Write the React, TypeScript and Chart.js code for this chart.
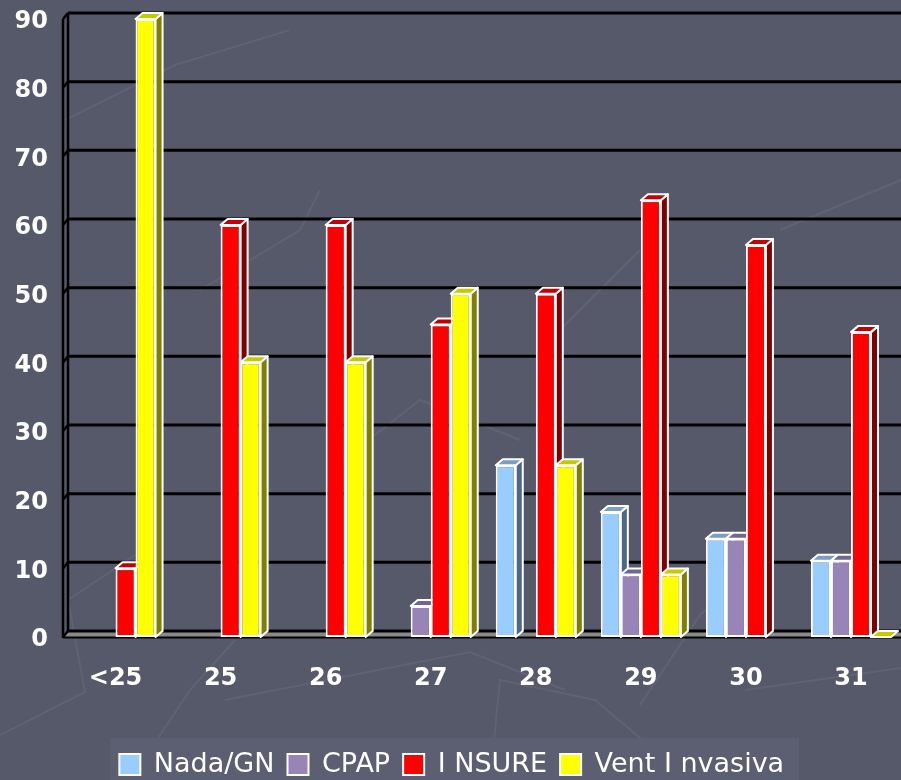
import React, { useEffect, useRef } from "react";
import { Chart, registerables } from "chart.js";

Chart.register(...registerables);

// ---- data ----
const categories = ["<25", "25", "26", "27", "28", "29", "30", "31"];
const nadaGN = [null, null, null, null, 25, 18.2, 14.3, 11.1];
const cpap = [null, null, null, 4.5, null, 9.1, 14.3, 11.1];
const insure = [10, 60, 60, 45.5, 50, 63.6, 57.1, 44.4];
const ventInvasiva = [90, 40, 40, 50, 25, 9.1, null, 0];
const seriesNames = ["Nada/GN", "CPAP", "I NSURE", "Vent I nvasiva"];
const yMin = 0;
const yMax = 90;
const yStep = 10;

// ---- styling ----
const FONT = "'DejaVu Sans', sans-serif";
const BG = "#56596a";
const PANEL = "#5c5f71";
const faces = [
  { front: "#99ccff", top: "#7a9dc2", side: "#4d6784" },
  { front: "#9884b6", top: "#6f6791", side: "#4d4468" },
  { front: "#ff0000", top: "#c40000", side: "#800000" },
  { front: "#ffff00", top: "#c8c800", side: "#808000" },
];
const DX = 7; // bar depth, horizontal
const DY = 6; // bar depth, vertical
const WX = 5; // wall depth, horizontal
const WY = 6; // wall depth, vertical

// faint strokes of the slide backdrop
const backdropStrokes: number[][] = [
  [0, 735, 85, 692, 68, 600, 150, 545],
  [130, 780, 190, 690, 235, 640],
  [225, 700, 470, 652, 565, 690],
  [490, 780, 500, 680, 595, 700, 690, 780],
  [640, 705, 700, 615, 760, 560],
  [745, 690, 901, 668],
  [65, 120, 175, 65, 290, 30],
  [200, 290, 300, 230, 320, 190],
  [330, 470, 420, 400, 520, 440],
  [560, 330, 640, 250],
  [780, 230, 901, 180],
];

const scenePlugin = {
  id: "scene3d",
  beforeDraw(chart: any) {
    const { ctx, width, height } = chart;
    ctx.save();
    ctx.fillStyle = BG;
    ctx.fillRect(0, 0, width, height);

    ctx.strokeStyle = "rgba(255,255,255,0.06)";
    ctx.lineWidth = 2;
    for (const pts of backdropStrokes) {
      ctx.beginPath();
      ctx.moveTo(pts[0], pts[1]);
      for (let k = 2; k < pts.length; k += 2) ctx.lineTo(pts[k], pts[k + 1]);
      ctx.stroke();
    }

    const legend = chart.legend;
    if (legend && legend.legendHitBoxes && legend.legendHitBoxes.length) {
      const hb = legend.legendHitBoxes;
      const last = hb[hb.length - 1];
      const l = hb[0].left - 9;
      const r = last.left + last.width + 15;
      ctx.fillStyle = PANEL;
      ctx.fillRect(l, legend.top, r - l, height - legend.top);
    }
    ctx.restore();
  },
  beforeDatasetsDraw(chart: any) {
    const { ctx, chartArea, scales } = chart;
    const ys = scales.y;
    const left = chartArea.left;
    const right = chart.width;
    const y0 = ys.getPixelForValue(yMin);
    const yTop = ys.getPixelForValue(yMax);
    ctx.save();

    // floor strip
    ctx.fillStyle = "#8a8a8a";
    ctx.beginPath();
    ctx.moveTo(left, y0);
    ctx.lineTo(left + WX, y0 - WY);
    ctx.lineTo(right, y0 - WY);
    ctx.lineTo(right, y0);
    ctx.closePath();
    ctx.fill();

    // back wall gridlines
    ctx.strokeStyle = "#000";
    ctx.lineWidth = 3;
    for (let v = yMin; v <= yMax; v += yStep) {
      const yy = ys.getPixelForValue(v) - WY;
      ctx.beginPath();
      ctx.moveTo(left + WX, yy);
      ctx.lineTo(right, yy);
      ctx.stroke();
    }
    // side wall
    ctx.lineWidth = 2.5;
    for (let v = yMin; v <= yMax; v += yStep) {
      const yy = ys.getPixelForValue(v);
      ctx.beginPath();
      ctx.moveTo(left, yy);
      ctx.lineTo(left + WX, yy - WY);
      ctx.stroke();
    }
    ctx.beginPath();
    ctx.moveTo(left, yTop);
    ctx.lineTo(left, y0 + 1);
    ctx.moveTo(left + WX, yTop - WY);
    ctx.lineTo(left + WX, y0 - WY);
    ctx.stroke();
    // floor front edge
    ctx.lineWidth = 2;
    ctx.beginPath();
    ctx.moveTo(left, y0 + 0.5);
    ctx.lineTo(right, y0 + 0.5);
    ctx.stroke();

    // bar sides and tops (fronts are drawn by the bar elements)
    ctx.strokeStyle = "#ffffff";
    ctx.lineWidth = 2;
    ctx.lineJoin = "round";
    const n = chart.data.labels.length;
    for (let i = 0; i < n; i++) {
      chart.data.datasets.forEach((ds: any, d: number) => {
        const val = ds.data[i];
        if (val === null || val === undefined) return;
        const el = chart.getDatasetMeta(d).data[i];
        if (!el) return;
        const { x, y, base, width } = el.getProps(["x", "y", "base", "width"], true);
        const L = x - width / 2;
        const R = x + width / 2;
        const f = faces[d];
        if (base - y > 0.5) {
          ctx.fillStyle = f.side;
          ctx.beginPath();
          ctx.moveTo(R, y);
          ctx.lineTo(R + DX, y - DY);
          ctx.lineTo(R + DX, base - DY);
          ctx.lineTo(R, base);
          ctx.closePath();
          ctx.fill();
          ctx.stroke();
        }
        ctx.fillStyle = f.top;
        ctx.beginPath();
        ctx.moveTo(L, y);
        ctx.lineTo(L + DX, y - DY);
        ctx.lineTo(R + DX, y - DY);
        ctx.lineTo(R, y);
        ctx.closePath();
        ctx.fill();
        ctx.stroke();
      });
    }
    ctx.restore();
  },
};

export default function App() {
  const canvasRef = useRef<HTMLCanvasElement | null>(null);

  useEffect(() => {
    const canvas = canvasRef.current;
    if (!canvas) return;
    const series = [nadaGN, cpap, insure, ventInvasiva];
    const chart = new Chart(canvas, {
      type: "bar",
      data: {
        labels: categories,
        datasets: series.map((values, k) => ({
          label: seriesNames[k],
          data: values,
          backgroundColor: faces[k].front,
          borderColor: "#ffffff",
          borderWidth: 2,
          borderSkipped: false,
          categoryPercentage: 0.762,
          barPercentage: 1,
        })),
      },
      options: {
        responsive: false,
        animation: false,
        devicePixelRatio: 1,
        layout: { padding: { top: 19, right: 1.5, left: 0, bottom: 0 } },
        plugins: {
          legend: {
            position: "bottom",
            labels: {
              color: "#ffffff",
              font: { family: FONT, size: 27 },
              boxWidth: 21,
              boxHeight: 21,
              padding: 13,
            },
          },
          tooltip: { enabled: false },
        },
        scales: {
          x: {
            grid: { display: false, drawTicks: false },
            border: { display: false },
            ticks: {
              color: "#ffffff",
              font: { family: FONT, size: 24, weight: "bold" },
              padding: 27,
            },
            afterFit(scale: any) {
              scale.height = 101;
            },
          },
          y: {
            min: yMin,
            max: yMax,
            grid: { display: false, drawTicks: false },
            border: { display: false },
            ticks: {
              stepSize: yStep,
              color: "#ffffff",
              font: { family: FONT, size: 24, weight: "bold" },
              padding: 15,
              labelOffset: 3,
            },
            afterFit(scale: any) {
              scale.width = 63;
              scale.paddingTop = 0;
              scale.paddingBottom = 0;
            },
          },
        },
      } as any,
      plugins: [scenePlugin],
    });
    return () => chart.destroy();
  }, []);

  return (
    <div
      style={{
        position: "fixed",
        left: 0,
        top: 0,
        width: 901,
        height: 780,
        overflow: "hidden",
        background: BG,
      }}
    >
      <canvas ref={canvasRef} width={905} height={788} style={{ display: "block" }} />
    </div>
  );
}
